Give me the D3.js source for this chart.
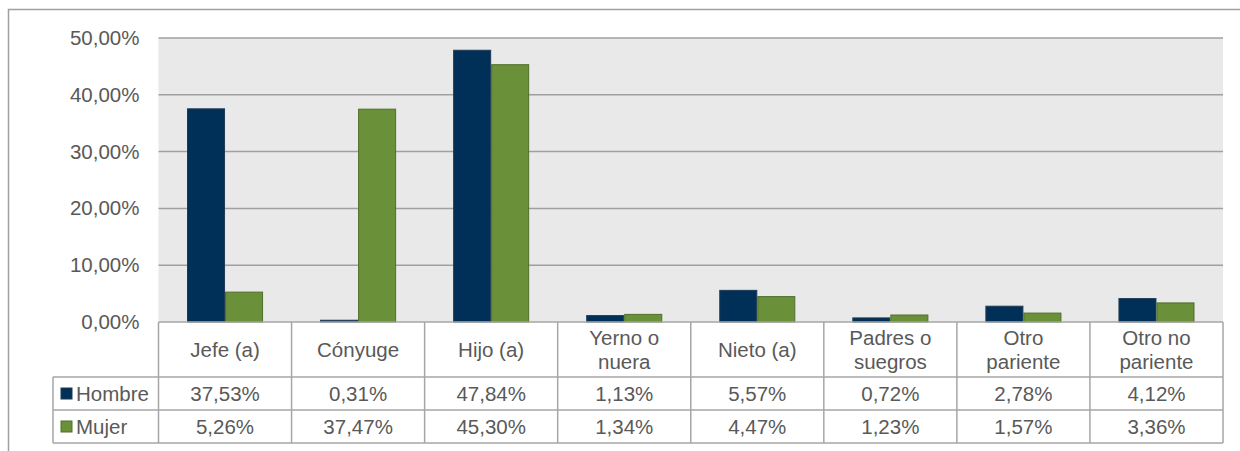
<!DOCTYPE html>
<html><head><meta charset="utf-8">
<script src="https://cdn.jsdelivr.net/npm/d3@7"></script>
<style>body{margin:0;background:#fff}svg{display:block}text{font-family:"Liberation Sans",Arial,sans-serif;fill:#595959}</style>
</head><body><svg id="c" width="1240" height="451"></svg>
<script>
const categories = [["Jefe (a)"],["Cónyuge"],["Hijo (a)"],["Yerno o","nuera"],["Nieto (a)"],["Padres o","suegros"],["Otro","pariente"],["Otro no","pariente"]];
const seriesNames = ["Hombre","Mujer"];
const hombre = [37.53,0.31,47.84,1.13,5.57,0.72,2.78,4.12];
const mujer = [5.26,37.47,45.30,1.34,4.47,1.23,1.57,3.36];
const hombreLabels = ["37,53%","0,31%","47,84%","1,13%","5,57%","0,72%","2,78%","4,12%"];
const mujerLabels = ["5,26%","37,47%","45,30%","1,34%","4,47%","1,23%","1,57%","3,36%"];
const yTicks = [0,10,20,30,40,50];

const colors = ["#003057","#6a9139"], strokes=["#1f3a55","#4f6e2a"];
const FS = 20.5;
const svg = d3.select("#c");
const L=158.5, R=1223, T=38, B=322;
const rowC=377, rowH=410, rowM=443, legL=53;
svg.append("path").attr("d","M8.5,451V9.5H1240").attr("fill","none").attr("stroke","#a0a0a0").attr("stroke-width",1.5);
const x = d3.scaleBand().domain(d3.range(categories.length)).range([L,R]);
const xi = d3.scaleBand().domain([0,1]).range([0,x.bandwidth()]).paddingOuter(0.75).paddingInner(0);
const y = d3.scaleLinear().domain([0,50]).range([B,T]);
svg.append("rect").attr("x",L).attr("y",T).attr("width",R-L).attr("height",B-T).attr("fill","#e8e9e8");
const ya = svg.append("g").attr("transform",`translate(${L},0)`).call(d3.axisLeft(y).tickValues(yTicks).tickSize(0).tickPadding(19).tickFormat(d=>d3.format(".2f")(d).replace(".",",")+"%"));
ya.select(".domain").remove();
ya.selectAll("text").attr("font-size",FS).attr("fill","#595959").attr("font-family","Liberation Sans, Arial, sans-serif").attr("dy","0.32em");
svg.append("g").selectAll("line").data(yTicks.filter(d=>d>0)).join("line")
 .attr("x1",L).attr("x2",R).attr("y1",d=>y(d)).attr("y2",d=>y(d)).attr("stroke","#a0a0a0").attr("stroke-width",1.5);
const data=[hombre,mujer];
data.forEach((vals,s)=>{
 svg.append("g").selectAll("rect").data(vals).join("rect")
  .attr("x",(d,i)=>x(i)+xi(s)+0.5).attr("width",xi.bandwidth()-1)
  .attr("y",d=>y(d)).attr("height",d=>B-y(d))
  .attr("fill",colors[s]).attr("stroke",strokes[s]).attr("stroke-width",1);
});
// table
const g=svg.append("g").attr("stroke","#a6a6a6").attr("stroke-width",1.5);
g.append("line").attr("x1",L).attr("x2",R).attr("y1",B).attr("y2",B);
g.append("line").attr("x1",legL).attr("x2",R).attr("y1",rowC).attr("y2",rowC);
g.append("line").attr("x1",legL).attr("x2",R).attr("y1",rowH).attr("y2",rowH);
g.append("line").attr("x1",legL).attr("x2",R).attr("y1",rowM).attr("y2",rowM);
g.append("line").attr("x1",legL).attr("x2",legL).attr("y1",rowC).attr("y2",rowM);
g.selectAll("line.v").data(d3.range(categories.length+1)).join("line").attr("class","v")
 .attr("x1",i=>i<categories.length?x(i):R).attr("x2",i=>i<categories.length?x(i):R).attr("y1",B).attr("y2",rowM);
categories.forEach((c,i)=>{
 const cx=x(i)+x.bandwidth()/2;
 const t=svg.append("text").attr("x",cx).attr("text-anchor","middle").attr("font-size",FS);
 if(c.length===1) t.attr("y",(B+rowC)/2).attr("dy","0.35em").text(c[0]);
 else { t.append("tspan").attr("x",cx).attr("y",(B+rowC)/2-12).attr("dy","0.35em").text(c[0]);
        t.append("tspan").attr("x",cx).attr("y",(B+rowC)/2+12).attr("dy","0.35em").text(c[1]); }
 svg.append("text").attr("x",cx).attr("y",(rowC+rowH)/2).attr("dy","0.35em").attr("text-anchor","middle").attr("font-size",FS).text(hombreLabels[i]);
 svg.append("text").attr("x",cx).attr("y",(rowH+rowM)/2).attr("dy","0.35em").attr("text-anchor","middle").attr("font-size",FS).text(mujerLabels[i]);
});
[[rowC,rowH],[rowH,rowM]].forEach(([a,b],s)=>{
 const cy=(a+b)/2;
 svg.append("rect").attr("x",61).attr("y",cy-5.5).attr("width",11).attr("height",11).attr("fill",colors[s]).attr("stroke",strokes[s]);
 svg.append("text").attr("x",76).attr("y",cy).attr("dy","0.35em").attr("font-size",FS).text(seriesNames[s]);
});
</script></body></html>
